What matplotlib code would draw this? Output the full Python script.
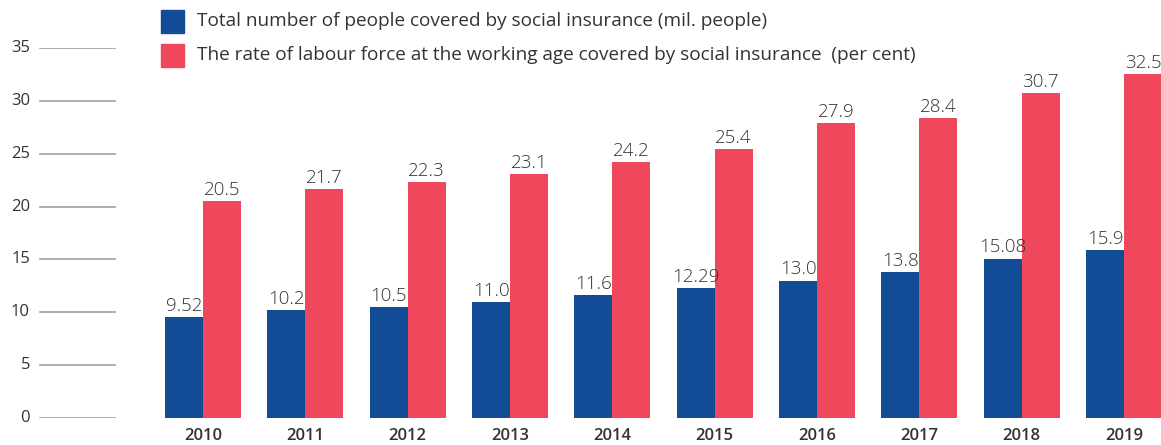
import matplotlib
matplotlib.use("Agg")
import matplotlib.pyplot as plt
from matplotlib.patches import Rectangle
import numpy as np

plt.rcParams['font.family'] = ['Open Sans', 'DejaVu Sans']

years = ['2010', '2011', '2012', '2013', '2014', '2015', '2016', '2017', '2018', '2019']
people_mil = [9.52, 10.2, 10.5, 11.0, 11.6, 12.29, 13.0, 13.8, 15.08, 15.9]
people_labels = ['9.52', '10.2', '10.5', '11.0', '11.6', '12.29', '13.0', '13.8', '15.08', '15.9']
rate_pct = [20.5, 21.7, 22.3, 23.1, 24.2, 25.4, 27.9, 28.4, 30.7, 32.5]
rate_labels = ['20.5', '21.7', '22.3', '23.1', '24.2', '25.4', '27.9', '28.4', '30.7', '32.5']
y_ticks = [0, 5, 10, 15, 20, 25, 30, 35]
legend_labels = ['Total number of people covered by social insurance (mil. people)',
                 'The rate of labour force at the working age covered by social insurance  (per cent)']

BLUE = '#134c96'
RED = '#ef475c'
TEXT = '#333333'
GRID = '#a0a0a0'

W, H = 1161, 445
fig = plt.figure(figsize=(W / 100, H / 100), dpi=100)
ax = fig.add_axes([0, 27 / H, 1, 370 / H])

step = 102.33
x0 = 203
ax.set_xlim((0 - x0) / step, (W - x0) / step)
ax.set_ylim(0, 35)
ax.axis('off')

x = np.arange(len(years))
bw = 38 / step
ax.bar(x - bw / 2, people_mil, width=bw, color=BLUE, zorder=2)
ax.bar(x + bw / 2, rate_pct, width=bw, color=RED, zorder=2)

for xi, v, lab in zip(x, people_mil, people_labels):
    ax.annotate(lab, (xi - bw / 2, v), xytext=(0, 1.5), textcoords='offset points',
                ha='center', va='bottom', fontsize=13.5, fontweight='light',
                color=TEXT, annotation_clip=False)
for xi, v, lab in zip(x, rate_pct, rate_labels):
    ax.annotate(lab, (xi + bw / 2, v), xytext=(0, 1.5), textcoords='offset points',
                ha='center', va='bottom', fontsize=13.5, fontweight='light',
                color=TEXT, annotation_clip=False)

# short gridlines with tick values on the left
for t in y_ticks:
    ax.axhline(t, xmin=40 / W, xmax=115 / W, color=GRID, lw=1.2, zorder=1)
    ax.text(30 / W, t, str(t), transform=ax.get_yaxis_transform(),
            ha='right', va='center', fontsize=12, color=TEXT)

# year labels below each group
for xi, yr in zip(x, years):
    ax.annotate(yr, (xi, 0), xytext=(0, -7.5), textcoords='offset points',
                ha='center', va='top', fontsize=12, fontweight='semibold', color=TEXT,
                annotation_clip=False)

# legend
for i, (lab, col) in enumerate(zip(legend_labels, [BLUE, RED])):
    top = 10 + i * 34
    fig.patches.append(Rectangle((161 / W, 1 - (top + 23) / H), 23 / W, 23 / H,
                                 transform=fig.transFigure, color=col))
    fig.text(197 / W, 1 - (top + 11.5) / H, lab, ha='left', va='center',
             fontsize=13.7, color=TEXT)

fig.savefig('out.png', dpi=100)
